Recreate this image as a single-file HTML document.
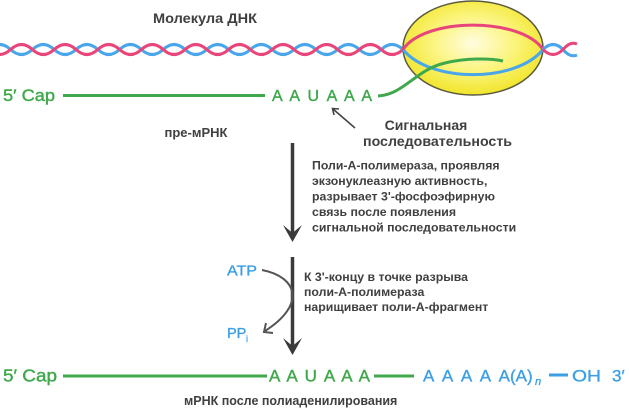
<!DOCTYPE html>
<html><head><meta charset="utf-8"><style>
html,body{margin:0;padding:0;background:#fff;}
svg{display:block;}
.lbl{font-family:"Liberation Sans",sans-serif;font-weight:bold;fill:#404040;}
.g{font-family:"Liberation Sans",sans-serif;fill:#3fa84b;stroke:#3fa84b;stroke-width:0.4;}
.b{font-family:"Liberation Sans",sans-serif;fill:#3d9fe6;stroke:#3d9fe6;stroke-width:0.35;}
</style></head><body>
<svg width="629" height="414" viewBox="0 0 629 414" xmlns="http://www.w3.org/2000/svg">
<defs>
<radialGradient id="yg" cx="50%" cy="45%" r="55%">
<stop offset="0" stop-color="#fffde0"/>
<stop offset="0.55" stop-color="#fbf47a"/>
<stop offset="1" stop-color="#f1e52c"/>
</radialGradient>
</defs>

<text class="lbl" x="153" y="23" font-size="13.5" textLength="104" lengthAdjust="spacingAndGlyphs">Молекула ДНК</text>

<!-- helix left -->
<path d="M-11.2 49.5 Q-0.3 39.5 10.6 49.5 T32.4 49.5 T54.2 49.5 T76 49.5 T97.8 49.5 T119.6 49.5 T141.4 49.5 T163.2 49.5 T185 49.5 T206.8 49.5 T228.6 49.5 T250.4 49.5 T272.2 49.5 T294 49.5 T315.8 49.5 T337.6 49.5 T359.4 49.5 T381.2 49.5 T403 49.5" fill="none" stroke="#4aa6ea" stroke-width="3"/>
<path d="M-11.2 49.5 Q-0.3 59.5 10.6 49.5 T32.4 49.5 T54.2 49.5 T76 49.5 T97.8 49.5 T119.6 49.5 T141.4 49.5 T163.2 49.5 T185 49.5 T206.8 49.5 T228.6 49.5 T250.4 49.5 T272.2 49.5 T294 49.5 T315.8 49.5 T337.6 49.5 T359.4 49.5 T381.2 49.5 T403 49.5" fill="none" stroke="#e8457a" stroke-width="3"/>

<!-- ellipse -->
<ellipse cx="473" cy="48" rx="70" ry="47" fill="url(#yg)" stroke="#5a5a40" stroke-width="1.5"/>
<path d="M403 49.5 C430 83 516 83 543 49.5" fill="none" stroke="#4aa6ea" stroke-width="3"/>
<path d="M403 49.5 C425 17 521 17 543 49.5" fill="none" stroke="#e8457a" stroke-width="3"/>
<!-- helix right -->
<path d="M543 49.5 Q553 39.5 563 49.5 Q570 58 577 55" fill="none" stroke="#4aa6ea" stroke-width="3"/>
<path d="M543 49.5 Q553 59.5 563 49.5 Q570 41 577 44" fill="none" stroke="#e8457a" stroke-width="3"/>

<!-- top RNA -->
<text class="g" x="3" y="101" font-size="16.5" textLength="52" lengthAdjust="spacingAndGlyphs">5′ Cap</text>
<line x1="63" y1="95.5" x2="265" y2="95.5" stroke="#3fa84b" stroke-width="3"/>
<text class="g" x="272" y="101" font-size="16" textLength="100" lengthAdjust="spacing">A A U A A A</text>
<path d="M378 96 C405 94 415 70 445 63 C465 58 490 58 503 61" fill="none" stroke="#3fa84b" stroke-width="3"/>

<!-- signal arrow -->
<line x1="355" y1="128" x2="333" y2="109" stroke="#444" stroke-width="1.6"/>
<path d="M339 109 L332.5 108.5 L334 115" fill="none" stroke="#444" stroke-width="1.6"/>

<text class="lbl" x="196" y="137" font-size="13" text-anchor="middle">пре-мРНК</text>
<text class="lbl" x="426" y="130" font-size="14" text-anchor="middle">Сигнальная</text>
<text class="lbl" x="437.5" y="146" font-size="14" text-anchor="middle" textLength="149" lengthAdjust="spacingAndGlyphs">последовательность</text>

<!-- arrow 1 -->
<line x1="292.5" y1="143" x2="292.5" y2="236" stroke="#3a3a3a" stroke-width="3.5"/>
<path d="M292.5 242 L283 225 L292.5 233 L302 225 Z" fill="#3a3a3a"/>

<g class="lbl" font-size="12.3">
<text x="312" y="169.5">Поли-А-полимераза, проявляя</text>
<text x="312" y="185">экзонуклеазную активность,</text>
<text x="312" y="200.5">разрывает 3'-фосфоэфирную</text>
<text x="312" y="216">связь после появления</text>
<text x="312" y="231.5">сигнальной последовательности</text>
</g>

<!-- arrow 2 -->
<line x1="292.5" y1="257" x2="292.5" y2="348" stroke="#3a3a3a" stroke-width="3.5"/>
<path d="M292.5 355 L283 338 L292.5 346 L302 338 Z" fill="#3a3a3a"/>

<text class="b" x="227" y="275.5" font-size="14.5" textLength="30" lengthAdjust="spacingAndGlyphs">ATP</text>
<path d="M262 270 C298 277 306 305 265 331" fill="none" stroke="#555" stroke-width="2"/>
<path d="M266 323 L264 332 L273 333" fill="none" stroke="#555" stroke-width="2"/>
<text class="b" x="227" y="338" font-size="14.5">PP</text>
<text class="b" x="246" y="342" font-size="9">i</text>

<g class="lbl" font-size="12.3">
<text x="304" y="281">К 3'-концу в точке разрыва</text>
<text x="304" y="296">поли-А-полимераза</text>
<text x="304" y="311">нарищивает поли-А-фрагмент</text>
</g>

<!-- bottom RNA -->
<text class="g" x="3" y="381.5" font-size="17.5" textLength="54" lengthAdjust="spacingAndGlyphs">5′ Cap</text>
<line x1="63" y1="376" x2="267" y2="376" stroke="#3fa84b" stroke-width="3"/>
<text class="g" x="269" y="381.5" font-size="17" textLength="101" lengthAdjust="spacing">A A U A A A</text>
<line x1="374" y1="376" x2="414" y2="376" stroke="#3fa84b" stroke-width="3"/>
<text class="b" x="423" y="381.5" font-size="17" textLength="87" lengthAdjust="spacing">A A A A A</text>
<text class="b" x="510" y="381.5" font-size="17">(A)</text>
<text class="b" x="535" y="385" font-size="11" font-style="italic">n</text>
<line x1="549" y1="375" x2="568" y2="375" stroke="#3d9fe6" stroke-width="3"/>
<text class="b" x="572" y="381.5" font-size="17" textLength="29" lengthAdjust="spacingAndGlyphs">OH</text>
<text class="b" x="612" y="381.5" font-size="17">3′</text>

<text class="lbl" x="184" y="405" font-size="12.5">мРНК после полиаденилирования</text>
</svg>
</body></html>
